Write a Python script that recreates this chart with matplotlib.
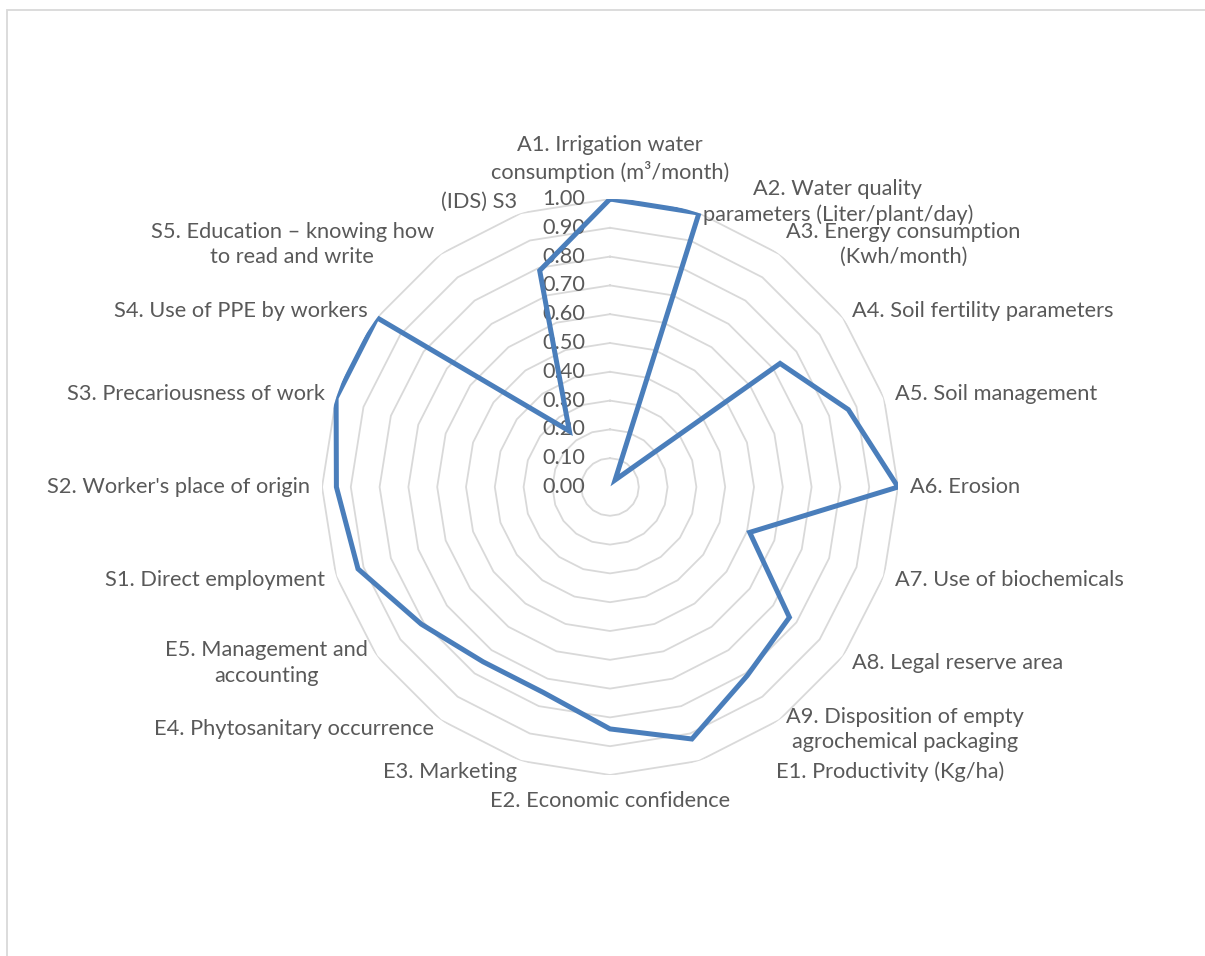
import numpy as np
import matplotlib
matplotlib.use("Agg")
import matplotlib.pyplot as plt
from matplotlib.patches import Rectangle

categories = [
    "A1. Irrigation water\nconsumption (m³/month)",
    "A2. Water quality\nparameters (Liter/plant/day)",
    "A3. Energy consumption\n(Kwh/month)",
    "A4. Soil fertility parameters",
    "A5. Soil management",
    "A6. Erosion",
    "A7. Use of biochemicals",
    "A8. Legal reserve area",
    "A9. Disposition of empty\nagrochemical packaging",
    "E1. Productivity (Kg/ha)",
    "E2. Economic confidence",
    "E3. Marketing",
    "E4. Phytosanitary occurrence",
    "E5. Management and\naccounting",
    "S1. Direct employment",
    "S2. Worker's place of origin",
    "S3. Precariousness of work",
    "S4. Use of PPE by workers",
    "S5. Education – knowing how\nto read and write",
    "(IDS) S3",
]
values = [1.00, 1.00, 0.03, 0.73, 0.87, 1.00, 0.51, 0.77, 0.81, 0.92,
          0.84, 0.75, 0.75, 0.81, 0.92, 0.95, 1.00, 1.00, 0.24, 0.79]
ticks = [0.0, 0.1, 0.2, 0.3, 0.4, 0.5, 0.6, 0.7, 0.8, 0.9, 1.0]

plt.rcParams['font.family'] = ['Lato', 'DejaVu Sans']
text_color = "#595959"
grid_color = "#d9d9d9"
line_color = "#4a7ebb"
fs = 15.7

W, H = 1205, 956
fig = plt.figure(figsize=(W / 100, H / 100), dpi=100)

# outer chart frame (cut by the image edge on right/bottom)
fig.patches.append(Rectangle((7 / W, -0.1), 1.2, 1 - 10 / H + 0.1, transform=fig.transFigure,
                             fill=False, edgecolor=grid_color, lw=1.3))

cx, cy, R = 610, 487, 288
ax = fig.add_axes([(cx - R) / W, 1 - (cy + R) / H, 2 * R / W, 2 * R / H], projection='polar')
ax.set_theta_offset(np.pi / 2)
ax.set_theta_direction(-1)
ax.set_ylim(0, 1)
ax.grid(False)
ax.set_xticks([])
ax.set_yticks([])
ax.spines['polar'].set_visible(False)
ax.patch.set_alpha(0)

n = len(categories)
theta = np.arange(n) * 2 * np.pi / n
theta_c = np.append(theta, theta[0])

# polygon gridlines
for t in ticks[1:]:
    ax.plot(theta_c, np.full(n + 1, t), color=grid_color, lw=1.3, zorder=1)

# data series
vals_c = np.append(values, values[0])
ax.plot(theta_c, vals_c, color=line_color, lw=3.6, solid_joinstyle='miter', zorder=3)

# value axis labels
for t in ticks:
    ax.annotate(f"{t:.2f}", xy=(0, t), xytext=(-18, 0), textcoords='offset points',
                ha='right', va='center', fontsize=fs, color=text_color, zorder=2)

# category labels
label_shift = {0: (0, 3), 9: (53, 0), 10: (0, -3)}
for i, (th, lab) in enumerate(zip(theta, categories)):
    s, c = np.sin(th), np.cos(th)
    if abs(s) < 0.05:
        ha = 'center'
        va = 'bottom' if c > 0 else 'top'
    else:
        ha = 'left' if s > 0 else 'right'
        va = 'center'
    dx, dy = label_shift.get(i, (0, 0))
    ax.annotate(lab, xy=(th, 1.04), xytext=(dx, dy), textcoords='offset points',
                ha=ha, va=va, multialignment='center', fontsize=fs,
                color=text_color, linespacing=1.33, annotation_clip=False)

fig.savefig("out.png", dpi=100)
